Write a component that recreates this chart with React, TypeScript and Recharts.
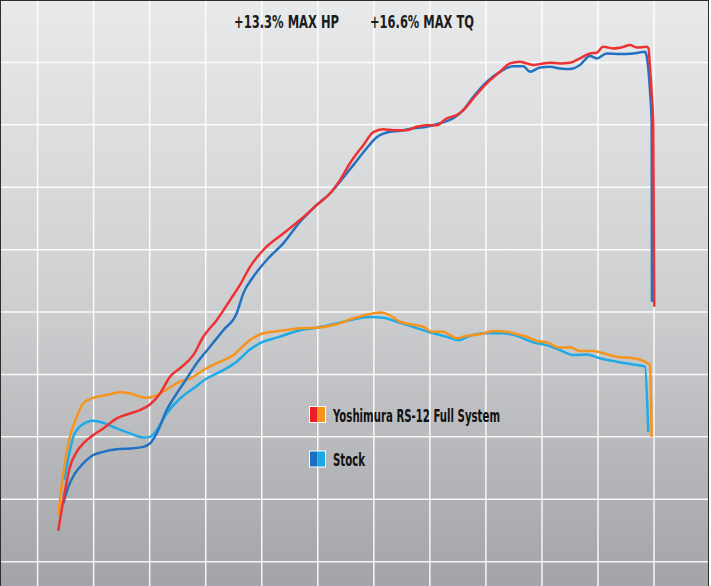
import React from 'react';
import { LineChart, Line, XAxis, YAxis, CartesianGrid } from 'recharts';

// grid: one vertical line per 1000 rpm, one horizontal line per 20 units
const rpmTicks = [1000, 2000, 3000, 4000, 5000, 6000, 7000, 8000, 9000, 10000, 11000, 12000];
const valueTicks = [20, 40, 60, 80, 100, 120, 140, 160, 180];
const rpmDomain = [347, 12963];
const valueDomain = [12.2, 199.7];

const yoshiHpRpm = [1369, 1459, 1578, 1698, 1815, 1994, 2172, 2411, 2649, 2827, 2993, 3186, 3364, 3541, 3778, 3957, 4196, 4433, 4612, 4790, 5027, 5384, 5682, 5980, 6217, 6396, 6574, 6812, 6990, 7169, 7347, 7586, 7765, 7943, 8122, 8300, 8478, 8596, 8775, 9014, 9251, 9429, 9608, 9727, 9845, 10024, 10143, 10321, 10500, 10678, 10857, 10976, 11094, 11273, 11451, 11570, 11690, 11868, 11900, 11927, 11958, 11986, 12004];
const yoshiHp = [29.9, 39.7, 50.4, 55.2, 57.9, 60.6, 62.7, 65.9, 67.5, 68.6, 70.2, 73.9, 79.3, 82.0, 86.2, 92.1, 97.4, 103.8, 108.7, 114.5, 119.9, 125.2, 129.5, 134.3, 138.0, 142.3, 147.7, 153.5, 157.7, 158.6, 158.3, 158.3, 159.4, 159.9, 159.9, 162.1, 163.1, 164.7, 168.5, 173.3, 177.0, 179.7, 180.2, 179.7, 179.2, 179.7, 179.9, 179.7, 179.9, 181.3, 182.9, 183.1, 185.0, 184.5, 185.0, 185.6, 184.8, 185.0, 184.6, 178.6, 170.1, 159.4, 101.7];

const stockHpRpm = [1459, 1548, 1667, 1815, 1994, 2172, 2411, 2649, 2886, 3006, 3125, 3304, 3482, 3661, 3839, 4076, 4314, 4553, 4671, 4849, 5088, 5384, 5682, 5980, 6217, 6396, 6633, 6873, 7051, 7288, 7467, 7704, 7943, 8180, 8418, 8596, 8775, 9014, 9251, 9489, 9667, 9787, 9967, 10143, 10321, 10500, 10678, 10857, 10976, 11155, 11392, 11630, 11839, 11880, 11927, 11958, 11963];
const stockHp = [38.7, 44.0, 48.3, 51.5, 54.2, 55.2, 56.0, 56.3, 56.8, 57.9, 61.1, 68.6, 73.9, 78.7, 83.6, 88.9, 94.2, 99.6, 106.0, 111.3, 116.7, 122.0, 128.9, 134.3, 138.0, 141.8, 147.1, 152.5, 156.0, 157.8, 158.1, 158.9, 159.4, 160.5, 162.1, 164.7, 169.0, 173.8, 177.0, 178.8, 178.8, 177.0, 178.4, 178.6, 178.1, 177.9, 179.2, 182.1, 181.3, 182.9, 182.7, 182.9, 183.4, 180.8, 171.2, 160.5, 103.3];

const yoshiTqRpm = [1369, 1459, 1548, 1698, 1815, 1994, 2233, 2470, 2649, 2827, 2947, 3125, 3304, 3541, 3719, 3957, 4196, 4492, 4790, 5027, 5384, 5682, 5980, 6337, 6633, 6931, 7140, 7288, 7467, 7645, 7883, 8033, 8239, 8359, 8478, 8657, 8894, 9132, 9371, 9549, 9727, 9906, 10084, 10322, 10500, 10678, 10916, 11094, 11334, 11630, 11869, 11927, 11958];
const yoshiTq = [34.9, 48.3, 57.9, 66.4, 70.7, 72.5, 73.4, 74.3, 73.9, 72.9, 72.5, 73.4, 75.2, 77.7, 78.7, 81.4, 83.6, 86.2, 91.0, 93.2, 94.1, 94.8, 95.0, 96.1, 98.0, 99.4, 99.9, 98.9, 96.9, 96.1, 95.3, 93.7, 93.7, 92.6, 91.6, 92.4, 92.9, 93.9, 93.7, 92.9, 92.1, 90.7, 90.3, 88.6, 88.7, 87.5, 87.5, 86.8, 85.7, 85.2, 83.8, 83.0, 60.0];

const stockTqRpm = [1476, 1519, 1637, 1787, 1994, 2172, 2411, 2649, 2886, 3006, 3125, 3304, 3541, 3778, 4017, 4314, 4553, 4790, 5027, 5267, 5682, 5980, 6277, 6574, 6931, 7169, 7408, 7645, 8002, 8300, 8507, 8716, 8953, 9310, 9549, 9845, 10084, 10322, 10560, 10798, 11035, 11334, 11630, 11839, 11897];
const stockTq = [46.2, 50.4, 60.0, 63.8, 65.2, 64.5, 62.7, 61.1, 59.8, 60.0, 62.2, 67.5, 72.3, 75.5, 78.7, 81.4, 84.1, 88.0, 90.5, 91.8, 94.2, 95.0, 96.1, 97.4, 98.4, 98.2, 96.9, 95.6, 93.5, 92.1, 91.0, 92.4, 93.2, 93.2, 92.4, 90.3, 89.4, 87.8, 86.2, 86.4, 85.2, 84.1, 83.2, 82.5, 61.6];

const toPoints = (rpm: number[], values: number[]) =>
  rpm.map((r, i) => ({ rpm: r, value: values[i] }));

const RED = '#ee3234';
const BLUE = '#2272c3';
const ORANGE = '#f7941d';
const LIGHT_BLUE = '#1eaae7';
const FONT = "'Liberation Sans Narrow', 'DejaVu Sans Condensed', sans-serif";

// grid positions come from the axis scales (fallback: same linear mapping over the plot offset)
const verticalLines = ({ xAxis, offset }: any) =>
  rpmTicks.map((t) =>
    xAxis && typeof xAxis.scale === 'function'
      ? xAxis.scale(t)
      : offset.left + ((t - rpmDomain[0]) / (rpmDomain[1] - rpmDomain[0])) * offset.width
  );

const horizontalLines = ({ yAxis, offset }: any) =>
  valueTicks.map((t) =>
    yAxis && typeof yAxis.scale === 'function'
      ? yAxis.scale(t)
      : offset.top + ((valueDomain[1] - t) / (valueDomain[1] - valueDomain[0])) * offset.height
  );

export default function App() {
  return (
    <div style={{ position: 'absolute', left: 0, top: 0, width: 711, height: 586, background: '#fff' }}>
      <div
        style={{
          position: 'absolute',
          left: 0,
          top: 0,
          width: 709,
          height: 586,
          boxSizing: 'border-box',
          borderTop: '1px solid #2e2e2e',
          borderLeft: '1px solid #2e2e2e',
          borderRight: '1px solid #2e2e2e',
          background: 'linear-gradient(180deg, #e8e9ea 0%, #cfd0d2 50%, #a3a4a7 100%)',
        }}
      >
        <LineChart width={707} height={585} margin={{ top: 0, right: 0, bottom: 0, left: 0 }}>
          <XAxis
            dataKey="rpm"
            type="number"
            domain={rpmDomain}
            ticks={rpmTicks}
            allowDataOverflow
            tickLine={false}
            axisLine={false}
            tick={false}
            height={0}
          />
          <YAxis
            type="number"
            domain={valueDomain}
            ticks={valueTicks}
            allowDataOverflow
            tickLine={false}
            axisLine={false}
            tick={false}
            width={0}
          />
          <CartesianGrid
            stroke="#ffffff"
            strokeOpacity={0.9}
            strokeWidth={1.5}
            verticalCoordinatesGenerator={verticalLines}
            horizontalCoordinatesGenerator={horizontalLines}
          />
          <Line data={toPoints(stockTqRpm, stockTq)} dataKey="value" type="monotone" stroke={LIGHT_BLUE} strokeWidth={2.5} dot={false} isAnimationActive={false} />
          <Line data={toPoints(yoshiTqRpm, yoshiTq)} dataKey="value" type="monotone" stroke={ORANGE} strokeWidth={2.5} dot={false} isAnimationActive={false} />
          <Line data={toPoints(stockHpRpm, stockHp)} dataKey="value" type="monotone" stroke={BLUE} strokeWidth={2.5} dot={false} isAnimationActive={false} />
          <Line data={toPoints(yoshiHpRpm, yoshiHp)} dataKey="value" type="monotone" stroke={RED} strokeWidth={2.5} dot={false} isAnimationActive={false} />
        </LineChart>
      </div>
      <svg width={711} height={586} style={{ position: 'absolute', left: 0, top: 0, pointerEvents: 'none' }}>
        <g fontFamily={FONT} fontWeight="bold" fill="#1c1c1c">
          <text x={234} y={28} fontSize={18} textLength={105} lengthAdjust="spacingAndGlyphs">+13.3% MAX HP</text>
          <text x={370} y={28} fontSize={18} textLength={104} lengthAdjust="spacingAndGlyphs">+16.6% MAX TQ</text>
        </g>
        <g>
          <rect x={309.5} y={406.5} width={8} height={16} fill="#ee1c25" />
          <rect x={317.5} y={406.5} width={8} height={16} fill={ORANGE} />
          <rect x={309.5} y={406.5} width={16} height={16} fill="none" stroke="#ffffff" strokeWidth={1} />
          <rect x={309.5} y={451} width={8} height={16} fill="#1b6ec0" />
          <rect x={317.5} y={451} width={8} height={16} fill="#1aa9e6" />
          <rect x={309.5} y={451} width={16} height={16} fill="none" stroke="#ffffff" strokeWidth={1} />
        </g>
        <g fontFamily={FONT} fontWeight="bold" fill="#111111" fontSize={17}>
          <text x={333} y={421.5} textLength={167} lengthAdjust="spacingAndGlyphs">Yoshimura RS-12 Full System</text>
          <text x={333} y={465.5} textLength={32} lengthAdjust="spacingAndGlyphs">Stock</text>
        </g>
      </svg>
    </div>
  );
}
